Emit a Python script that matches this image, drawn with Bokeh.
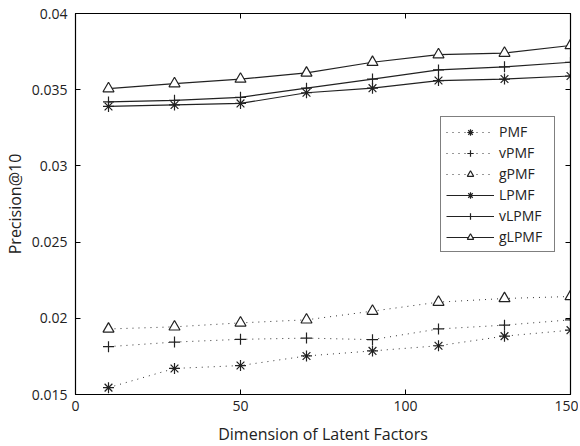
from bokeh.plotting import figure
from bokeh.models import Range1d, LinearAxis, FixedTicker, Legend, LegendItem
from bokeh.embed import file_html
from bokeh.resources import INLINE

dims = [10, 30, 50, 70, 90, 110, 130, 150]
pmf = [0.01545, 0.01671, 0.0169, 0.01753, 0.01786, 0.0182, 0.01883, 0.01922]
vpmf = [0.01814, 0.01844, 0.01862, 0.0187, 0.0186, 0.0193, 0.01955, 0.0199]
gpmf = [0.0193, 0.01944, 0.0197, 0.0199, 0.02047, 0.02106, 0.0213, 0.02143]
lpmf = [0.0339, 0.0340, 0.0341, 0.0348, 0.0351, 0.0356, 0.0357, 0.0359]
vlpmf = [0.0342, 0.0343, 0.0345, 0.0351, 0.0357, 0.0363, 0.0365, 0.0368]
glpmf = [0.03507, 0.0354, 0.0357, 0.0361, 0.0368, 0.0373, 0.0374, 0.0379]

x_ticks = [0, 50, 100, 150]
x_tick_labels = ["0", "50", "100", "150"]
y_ticks = [0.015, 0.02, 0.025, 0.03, 0.035, 0.04]
y_tick_labels = ["0.015", "0.02", "0.025", "0.03", "0.035", "0.04"]

FONT = "Open Sans"

p = figure(width=572, height=438, output_backend="svg", toolbar_location=None,
           x_range=Range1d(0, 150), y_range=Range1d(0.015, 0.04),
           min_border_left=69, min_border_right=8, min_border_top=13, min_border_bottom=44)
p.frame_width = 495
p.frame_height = 381
p.grid.visible = False
p.outline_line_color = "black"
p.outline_line_width = 1.2
p.background_fill_color = "white"
p.border_fill_color = "white"

def style_axis(ax, ticks, labels, show_labels=True):
    ax.ticker = FixedTicker(ticks=ticks)
    ax.major_label_overrides = {t: l for t, l in zip(ticks, labels)}
    ax.major_tick_in = 5
    ax.major_tick_out = 0
    ax.minor_tick_line_color = None
    ax.axis_line_color = "black"
    ax.major_tick_line_color = "black"
    ax.major_label_text_font = FONT
    ax.major_label_text_font_size = "14px" if show_labels else "0px"
    ax.major_label_text_color = "#222222"
    ax.axis_label_text_font = FONT
    ax.axis_label_text_font_style = "normal"
    ax.axis_label_text_font_size = "16px"
    ax.axis_label_text_color = "#222222"

style_axis(p.xaxis[0], x_ticks, x_tick_labels)
style_axis(p.yaxis[0], y_ticks, y_tick_labels)
p.xaxis[0].axis_label = "Dimension of Latent Factors"
p.yaxis[0].axis_label = "Precision@10"
p.xaxis[0].major_label_standoff = 6
p.yaxis[0].major_label_standoff = 8
p.xaxis[0].axis_label_standoff = 9
p.yaxis[0].axis_label_standoff = 3

top_ax = LinearAxis()
style_axis(top_ax, x_ticks, ["", "", "", ""], show_labels=False)
top_ax.major_label_standoff = 0
p.add_layout(top_ax, "above")
right_ax = LinearAxis()
style_axis(right_ax, y_ticks, ["", "", "", "", "", ""], show_labels=False)
right_ax.major_label_standoff = 0
p.add_layout(right_ax, "right")

series = [
    ("PMF", pmf, "dotted", "asterisk"),
    ("vPMF", vpmf, "dotted", "cross"),
    ("gPMF", gpmf, "dotted", "triangle"),
    ("LPMF", lpmf, "solid", "asterisk"),
    ("vLPMF", vlpmf, "solid", "cross"),
    ("gLPMF", glpmf, "solid", "triangle"),
]

items = []
for name, ys, dash, marker in series:
    if dash == "dotted":
        ln = p.line(dims, ys, line_color="#333333", line_width=1, line_dash="1 5")
    else:
        ln = p.line(dims, ys, line_color="#222222", line_width=1.2)
    sc = p.scatter(dims, ys, marker=marker, size=11, line_color="#222222",
                   fill_color="white", fill_alpha=0 if marker != "triangle" else 1,
                   line_width=1.2)
    items.append(LegendItem(label=name, renderers=[ln, sc]))

legend = Legend(items=items, location=(365, 142))
legend.label_text_font = FONT
legend.label_text_font_size = "14px"
legend.label_text_color = "#222222"
legend.glyph_width = 48
legend.glyph_height = 16
legend.label_height = 16
legend.label_width = 50
legend.spacing = 2
legend.padding = 5
legend.margin = 0
legend.label_standoff = 5
legend.border_line_color = "black"
legend.border_line_width = 1.2
legend.background_fill_color = "white"
legend.background_fill_alpha = 1
p.add_layout(legend, "center")

open("out.html", "w").write(file_html(p, INLINE))
